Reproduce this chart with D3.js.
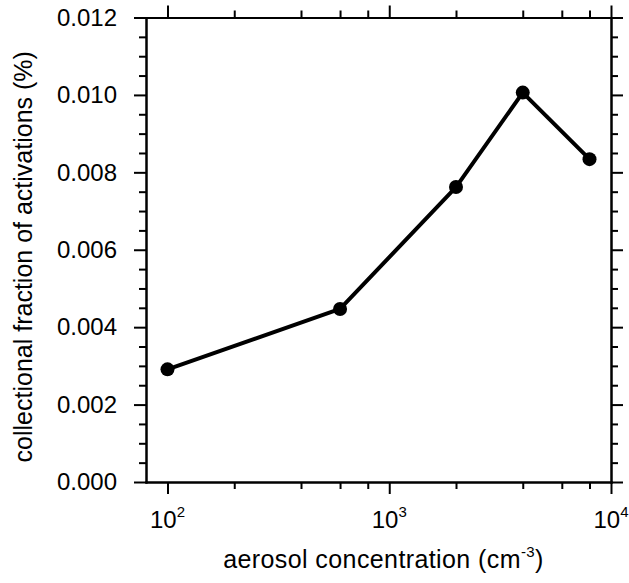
<!DOCTYPE html>
<html>
<head>
<meta charset="utf-8">
<script src="https://cdn.jsdelivr.net/npm/d3@7.9.0/dist/d3.min.js"></script>
<style>
  body { margin: 0; background: #fff; }
  svg { display: block; font-family: "Liberation Sans", Arial, Helvetica, sans-serif; }
  .axis path, .axis line { stroke: #000; stroke-width: 2; }
  .axis text { font-size: 24px; fill: #000; }
</style>
</head>
<body>
<svg id="chart" width="629" height="583"></svg>
<script>
// data
const concentration = [100, 600, 2000, 4000, 8000];
const fraction = [0.00291, 0.00447, 0.00762, 0.01006, 0.00834];

const xMajor = [100, 1000, 10000];
const xExponents = ['2', '3', '4'];
const xMinor = [200, 400, 600, 800, 2000, 4000, 6000, 8000];
const yMajor = [0, 0.002, 0.004, 0.006, 0.008, 0.010, 0.012];
const yMinor = d3.range(0, 0.01201, 0.0005).filter(v => Math.abs(v / 0.002 - Math.round(v / 0.002)) > 1e-6);

const margin = { top: 17.5, right: 18, bottom: 101, left: 146 };
const width = 629 - margin.left - margin.right;
const height = 583 - margin.top - margin.bottom;

const svg = d3.select('#chart');
const g = svg.append('g').attr('transform', `translate(${margin.left},${margin.top})`);

const x = d3.scaleLog().domain([80, 10000]).range([0, width]);
const y = d3.scaleLinear().domain([0, 0.012]).range([height, 0]);

const majorLen = 12, minorLen = 7;

// left axis
g.append('g').attr('class', 'axis')
  .call(d3.axisLeft(y).tickValues(yMajor).tickSize(majorLen).tickSizeOuter(0)
    .tickPadding(17).tickFormat(d3.format('.3f')));
g.append('g').attr('class', 'axis')
  .call(d3.axisLeft(y).tickValues(yMinor).tickSize(minorLen).tickSizeOuter(0).tickFormat(''));

// right axis
g.append('g').attr('class', 'axis').attr('transform', `translate(${width},0)`)
  .call(d3.axisRight(y).tickValues(yMajor).tickSize(majorLen).tickSizeOuter(0).tickFormat(''));
g.append('g').attr('class', 'axis').attr('transform', `translate(${width},0)`)
  .call(d3.axisRight(y).tickValues(yMinor).tickSize(minorLen).tickSizeOuter(0).tickFormat(''));

// bottom axis
g.append('g').attr('class', 'axis').attr('transform', `translate(0,${height})`)
  .call(d3.axisBottom(x).tickValues(xMajor).tickSize(majorLen).tickSizeOuter(0).tickFormat(''));
g.append('g').attr('class', 'axis').attr('transform', `translate(0,${height})`)
  .call(d3.axisBottom(x).tickValues(xMinor).tickSize(minorLen).tickSizeOuter(0).tickFormat(''));

// top axis
g.append('g').attr('class', 'axis')
  .call(d3.axisTop(x).tickValues(xMajor).tickSize(majorLen).tickSizeOuter(0).tickFormat(''));
g.append('g').attr('class', 'axis')
  .call(d3.axisTop(x).tickValues(xMinor).tickSize(minorLen).tickSizeOuter(0).tickFormat(''));

g.selectAll('.axis .domain').attr('stroke-linecap', 'square');

// power-of-ten labels
xMajor.forEach((v, i) => {
  const t = g.append('text')
    .attr('x', x(v))
    .attr('y', height + 46)
    .attr('text-anchor', 'middle')
    .style('font-size', '24px');
  t.append('tspan').text('10');
  t.append('tspan').attr('dy', -11).style('font-size', '15px').text(xExponents[i]);
});

// line and markers
const line = d3.line()
  .x((d, i) => x(concentration[i]))
  .y(d => y(d));

g.append('path')
  .datum(fraction)
  .attr('d', line)
  .attr('fill', 'none')
  .attr('stroke', '#000')
  .attr('stroke-width', 4)
  .attr('stroke-linejoin', 'round');

g.selectAll('circle.pt')
  .data(fraction)
  .join('circle')
  .attr('class', 'pt')
  .attr('cx', (d, i) => x(concentration[i]))
  .attr('cy', d => y(d))
  .attr('r', 7)
  .attr('fill', '#000');

// axis titles
const xt = g.append('text')
  .attr('x', width / 2 + 5)
  .attr('y', height + 86)
  .attr('text-anchor', 'middle')
  .style('font-size', '25px')
  .style('letter-spacing', '0.4px');
xt.append('tspan').text('aerosol concentration (cm');
xt.append('tspan').attr('dy', -11).style('font-size', '15px').text('-3');
xt.append('tspan').attr('dy', 11).text(')');

g.append('text')
  .attr('transform', `translate(${-114},${height / 2 + 7}) rotate(-90)`)
  .attr('text-anchor', 'middle')
  .style('font-size', '25px')
  .text('collectional fraction of activations (%)');
</script>
</body>
</html>
